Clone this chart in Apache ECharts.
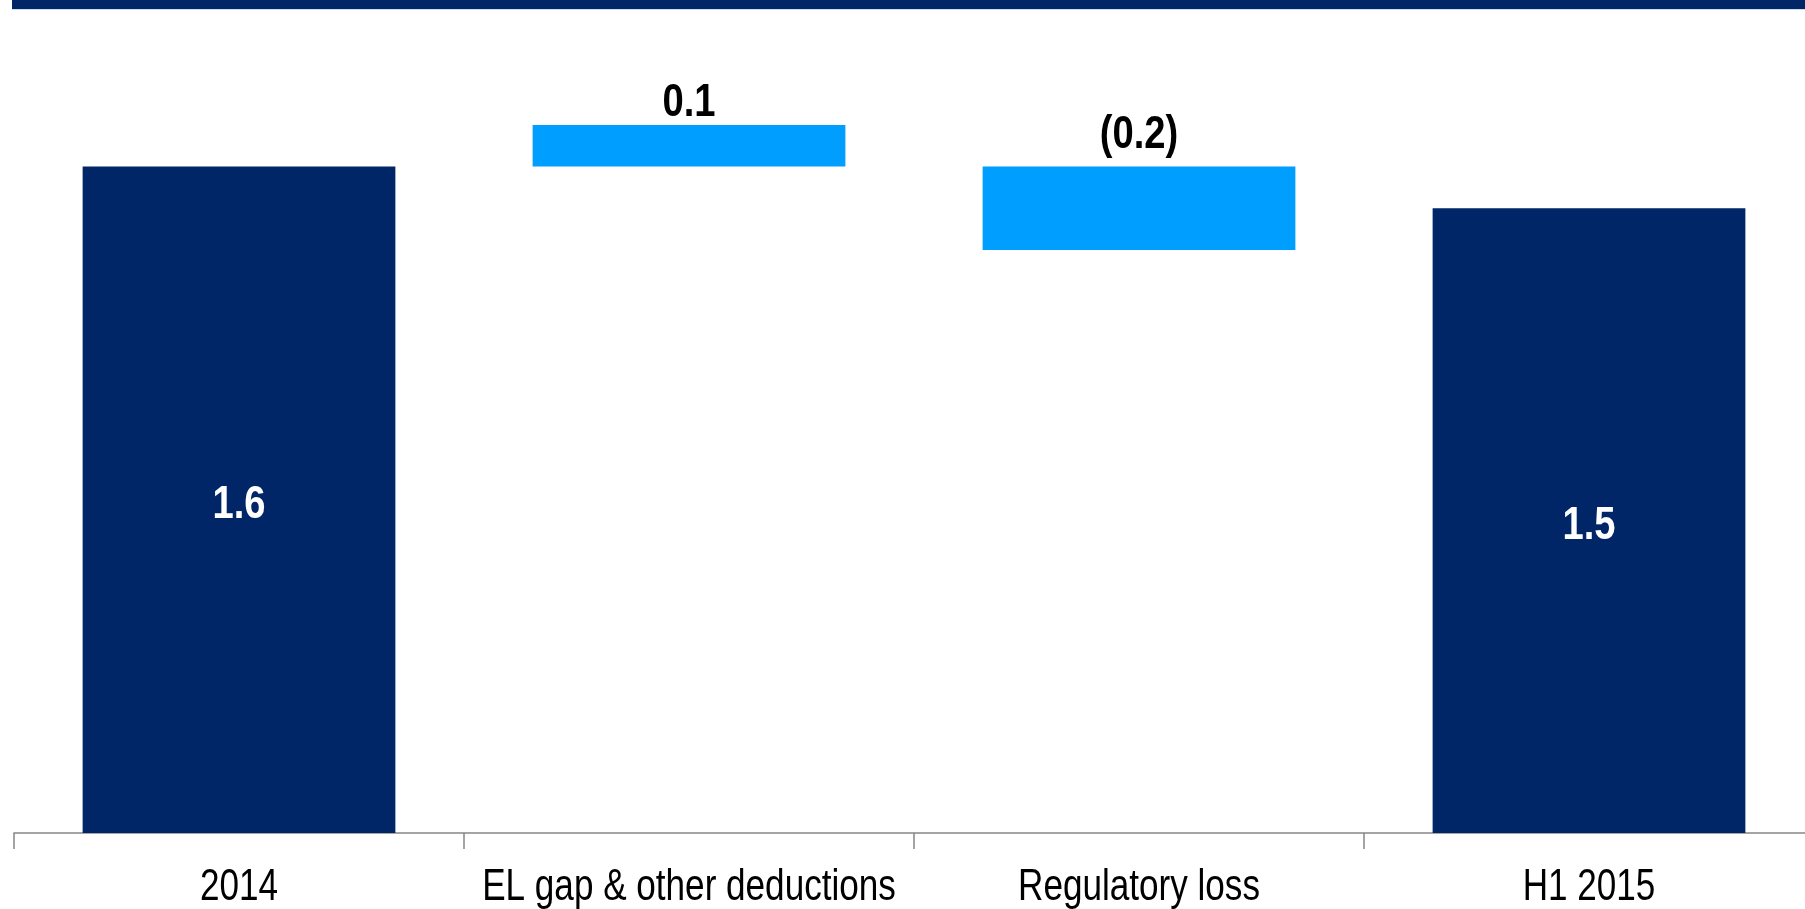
<!DOCTYPE html>
<html>
<head>
<meta charset="utf-8">
<title>CET1 bridge</title>
<script src="https://cdn.jsdelivr.net/npm/echarts@6/dist/echarts.min.js"></script>
<style>
  html, body { margin: 0; padding: 0; background: #ffffff; }
  #chart { width: 1805px; height: 909px; }
</style>
</head>
<body>
<div id="chart"></div>
<script>
// Bridge categories and the step values (bn)
const categories = ['2014', 'EL gap & other deductions', 'Regulatory loss', 'H1 2015'];
// invisible offset under each floating step
const baseValues = [0, 1.6, 1.4, 0];
// visible height of each bar
const barValues = [1.6, 0.1, 0.2, 1.5];
// text shown on each bar
const valueLabels = ['1.6', '0.1', '(0.2)', '1.5'];
// which bars are totals (dark) and which are steps (light)
const isTotal = [true, false, false, true];

const NAVY = '#002668';
const SKY = '#009EFF';
const FONT = '"Liberation Sans", Arial, sans-serif';
// narrow look: regular sans squeezed horizontally
const SQUEEZE_CAT = 0.78;
const SQUEEZE_VAL = 0.83;
// distance (px) from the step bar top to the centre of its label
const stepLabelLift = [0, 24, 33, 0];

const chart = echarts.init(document.getElementById('chart'), null, { renderer: 'canvas' });

const visibleData = barValues.map(function (v, i) {
  return { value: v, itemStyle: { color: isTotal[i] ? NAVY : SKY } };
});

chart.setOption({
  animation: false,
  backgroundColor: '#ffffff',
  // the last category runs a little past the right edge of the canvas
  grid: { left: 14, width: 1800, top: 0, bottom: 76, containLabel: false, outerBoundsMode: 'none' },
  xAxis: {
    type: 'category',
    data: categories,
    boundaryGap: true,
    axisLine: { show: true, lineStyle: { color: '#878787', width: 1.5 } },
    axisTick: { show: true, alignWithLabel: false, length: 16, lineStyle: { color: '#878787', width: 1.5 } },
    axisLabel: { show: false }
  },
  yAxis: {
    type: 'value',
    min: 0,
    max: 2,
    show: false,
    splitLine: { show: false }
  },
  series: [
    {
      name: 'offset',
      type: 'bar',
      stack: 'bridge',
      data: baseValues,
      barWidth: '69.5%',
      itemStyle: { color: 'rgba(0,0,0,0)' },
      emphasis: { disabled: true },
      silent: true
    },
    {
      name: 'value',
      type: 'bar',
      stack: 'bridge',
      data: visibleData,
      barWidth: '69.5%',
      emphasis: { disabled: true }
    }
  ]
});

// Condensed texts: category names under the axis and values on the bars,
// placed through the chart's own coordinate conversion.
const texts = [];
const axisY = chart.convertToPixel({ seriesIndex: 1 }, [0, 0])[1];

categories.forEach(function (name, i) {
  const px = chart.convertToPixel({ seriesIndex: 1 }, [i, 0]);
  texts.push({
    type: 'text',
    x: px[0],
    y: axisY + 55,
    scaleX: SQUEEZE_CAT,
    z: 100,
    silent: true,
    style: {
      text: name,
      fill: '#000000',
      font: 'normal 45px ' + FONT,
      align: 'center',
      verticalAlign: 'middle'
    }
  });
});

valueLabels.forEach(function (txt, i) {
  const base = baseValues[i];
  const v = barValues[i];
  let x, y, color;
  if (isTotal[i]) {
    const mid = chart.convertToPixel({ seriesIndex: 1 }, [i, base + v / 2]);
    x = mid[0];
    y = mid[1] + 6;
    color = '#ffffff';
  } else {
    const top = chart.convertToPixel({ seriesIndex: 1 }, [i, base + v]);
    x = top[0];
    y = top[1] - stepLabelLift[i] + 2;
    color = '#000000';
  }
  texts.push({
    type: 'text',
    x: x,
    y: y,
    scaleX: SQUEEZE_VAL,
    z: 100,
    silent: true,
    style: {
      text: txt,
      fill: color,
      font: 'bold 46px ' + FONT,
      align: 'center',
      verticalAlign: 'middle'
    }
  });
});

chart.setOption({
  graphic: [
    {
      type: 'rect',
      left: 12,
      top: 0,
      z: 100,
      shape: { width: 1793, height: 9 },
      style: { fill: NAVY },
      silent: true
    },
    {
      type: 'rect',
      left: 12,
      top: 9,
      z: 100,
      shape: { width: 1793, height: 1 },
      style: { fill: '#cfdcec' },
      silent: true
    }
  ].concat(texts)
});
</script>
</body>
</html>
